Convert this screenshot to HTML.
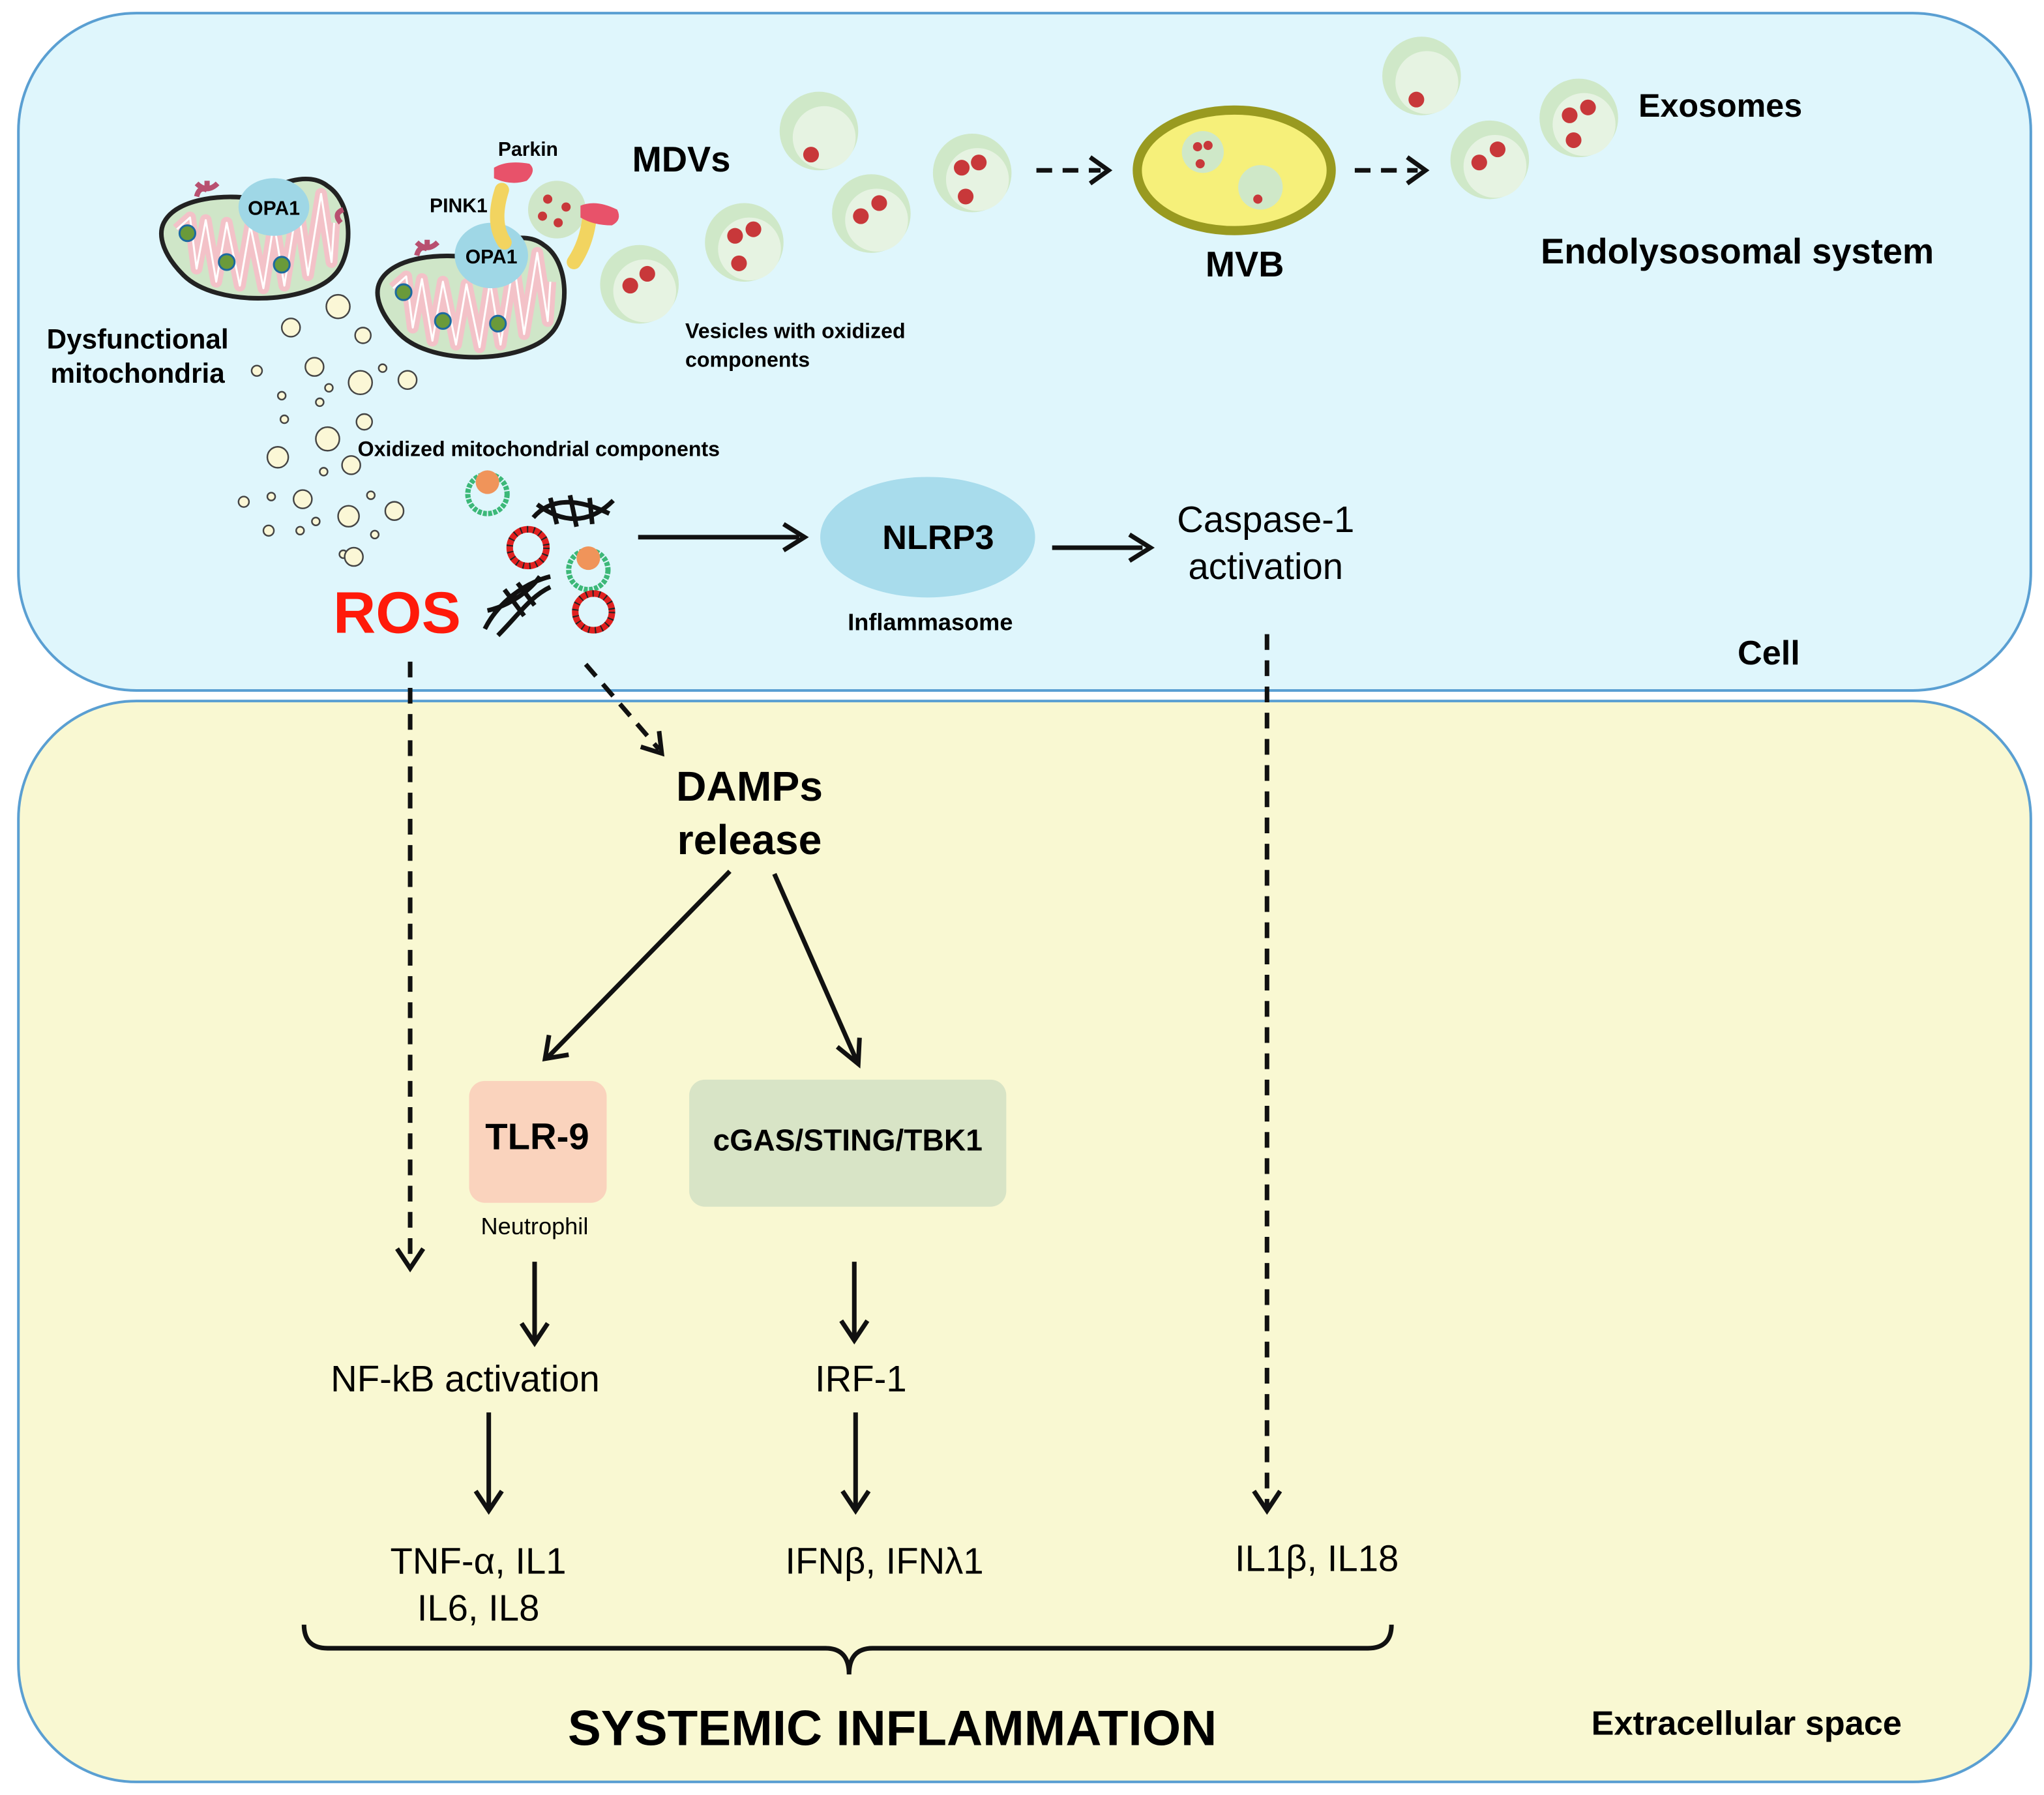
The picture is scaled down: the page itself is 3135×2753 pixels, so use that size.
<!DOCTYPE html>
<html><head><meta charset="utf-8"><style>html,body{margin:0;padding:0;background:#fff}svg{display:block}</style></head><body>
<svg width="3135" height="2753" viewBox="0 0 1560 1370" xmlns="http://www.w3.org/2000/svg" font-family="Liberation Sans, Arial, sans-serif">
<defs>
<marker id="ah" markerWidth="10" markerHeight="10" refX="8" refY="5" orient="auto" markerUnits="userSpaceOnUse" viewBox="0 0 10 10" >
</marker>
<g id="ves"><circle r="30" fill="#cfe8c8"/><circle cx="4" cy="5" r="24" fill="#e6f3e2"/></g>
<g id="mito">
<path d="M-70,-10 C-60,-30 -20,-32 0,-28 C15,-40 40,-50 55,-38 C75,-25 75,15 60,30 C40,52 -30,55 -55,30 C-70,15 -75,0 -70,-10Z" fill="#cfe6c8" stroke="#222" stroke-width="3.5"/>
<path d="M-60,-5 L-50,-14 L-45,25 L-38,-12 L-30,35 L-22,-10 L-12,38 L-4,-8 L6,40 L14,-10 L22,38 L32,-25 L40,30 L50,-32 L58,20 L60,-10" fill="none" stroke="#f3c2c8" stroke-width="9" stroke-linejoin="round"/>
<path d="M-60,-5 L-50,-14 L-45,25 L-38,-12 L-30,35 L-22,-10 L-12,38 L-4,-8 L6,40 L14,-10 L22,38 L32,-25 L40,30 L50,-32 L58,20 L60,-10" fill="none" stroke="#fff" stroke-width="1.5" stroke-linejoin="round"/>
<circle cx="-52" cy="-2" r="6" fill="#6a9a3a" stroke="#1c6aa0" stroke-width="1.5"/>
<circle cx="-22" cy="20" r="6" fill="#6a9a3a" stroke="#1c6aa0" stroke-width="1.5"/>
<circle cx="20" cy="22" r="6" fill="#6a9a3a" stroke="#1c6aa0" stroke-width="1.5"/>
</g>
</defs>
<style>.b{font-weight:bold}.ar{stroke:#111;stroke-width:3.5;fill:none}</style>
<rect x="14" y="10" width="1536" height="517" rx="90" fill="#dff6fc" stroke="#5a9fd2" stroke-width="2"/>
<rect x="14" y="535" width="1536" height="825" rx="90" fill="#f9f8d2" stroke="#5a9fd2" stroke-width="2"/>

<!-- mitochondria -->
<use href="#mito" x="195" y="180"/>
<path d="M150,150 q2,-8 8,-5 M158,145 l0,-7 M150,140 q8,8 16,0" stroke="#b85070" stroke-width="4" fill="none"/>
<path d="M262,160 q-8,3 -2,10" stroke="#b85070" stroke-width="4" fill="none"/>
<ellipse cx="209" cy="158" rx="27" ry="22" fill="#9fd7e6"/>
<text x="209" y="164" font-size="15" class="b" text-anchor="middle">OPA1</text>
<circle cx="425" cy="160" r="22" fill="#cfe6c8"/>
<circle cx="418" cy="152" r="3.5" fill="#c8383a"/><circle cx="432" cy="158" r="3.5" fill="#c8383a"/><circle cx="426" cy="170" r="3.5" fill="#c8383a"/><circle cx="414" cy="165" r="3.5" fill="#c8383a"/>
<use href="#mito" x="360" y="225"/>
<path d="M318,195 q2,-8 8,-5 M326,190 l0,-7 M318,185 q8,8 16,0" stroke="#b85070" stroke-width="4" fill="none"/>
<ellipse cx="375" cy="195" rx="28" ry="25" fill="#9fd7e6"/>
<text x="375" y="201" font-size="15" class="b" text-anchor="middle">OPA1</text>
<path d="M383,145 q-8,25 2,40" stroke="#f2d460" stroke-width="11" stroke-linecap="round" fill="none"/>
<path d="M438,200 q10,-15 12,-35" stroke="#f2d460" stroke-width="11" stroke-linecap="round" fill="none"/>
<path d="M377,128 q10,-6 27,-3 q6,5 -2,13 q-12,4 -25,-2Z" fill="#e8526a"/>
<path d="M443,157 q12,-5 28,3 q4,8 -4,12 q-14,0 -24,-6Z" fill="#e8526a"/>
<text x="403" y="119" font-size="15" class="b" text-anchor="middle">Parkin</text>
<text x="350" y="162" font-size="15" class="b" text-anchor="middle">PINK1</text>

<!-- bubbles -->
<g fill="#fbf7d6" stroke="#444" stroke-width="1.2">
<circle cx="222" cy="250" r="7"/><circle cx="258" cy="234" r="9"/><circle cx="277" cy="256" r="6"/><circle cx="196" cy="283" r="4"/><circle cx="240" cy="280" r="7"/><circle cx="275" cy="292" r="9"/><circle cx="215" cy="302" r="3"/><circle cx="251" cy="296" r="3"/><circle cx="292" cy="281" r="3"/><circle cx="311" cy="290" r="7"/><circle cx="217" cy="320" r="3"/><circle cx="244" cy="307" r="3"/><circle cx="278" cy="322" r="6"/><circle cx="250" cy="335" r="9"/><circle cx="212" cy="349" r="8"/><circle cx="268" cy="355" r="7"/><circle cx="247" cy="360" r="3"/><circle cx="186" cy="383" r="4"/><circle cx="207" cy="379" r="3"/><circle cx="231" cy="381" r="7"/><circle cx="241" cy="398" r="3"/><circle cx="266" cy="394" r="8"/><circle cx="283" cy="378" r="3"/><circle cx="301" cy="390" r="7"/><circle cx="205" cy="405" r="4"/><circle cx="229" cy="405" r="3"/><circle cx="262" cy="423" r="3"/><circle cx="286" cy="408" r="3"/><circle cx="270" cy="425" r="7"/>
</g>
<text x="105" y="266" font-size="21" class="b" text-anchor="middle">Dysfunctional</text>
<text x="105" y="292" font-size="21" class="b" text-anchor="middle">mitochondria</text>

<!-- vesicles -->
<use href="#ves" x="625" y="100"/><circle cx="619" cy="118" r="6" fill="#c8383a"/>
<use href="#ves" x="665" y="163"/><circle cx="657" cy="165" r="6" fill="#c8383a"/><circle cx="671" cy="155" r="6" fill="#c8383a"/>
<use href="#ves" x="742" y="132"/><circle cx="734" cy="128" r="6" fill="#c8383a"/><circle cx="747" cy="124" r="6" fill="#c8383a"/><circle cx="737" cy="150" r="6" fill="#c8383a"/>
<use href="#ves" x="568" y="185"/><circle cx="561" cy="180" r="6" fill="#c8383a"/><circle cx="575" cy="175" r="6" fill="#c8383a"/><circle cx="564" cy="201" r="6" fill="#c8383a"/>
<use href="#ves" x="488" y="217"/><circle cx="481" cy="218" r="6" fill="#c8383a"/><circle cx="494" cy="209" r="6" fill="#c8383a"/>
<use href="#ves" x="1085" y="58"/><circle cx="1081" cy="76" r="6" fill="#c8383a"/>
<use href="#ves" x="1137" y="122"/><circle cx="1129" cy="124" r="6" fill="#c8383a"/><circle cx="1143" cy="114" r="6" fill="#c8383a"/>
<use href="#ves" x="1205" y="90"/><circle cx="1198" cy="88" r="6" fill="#c8383a"/><circle cx="1212" cy="82" r="6" fill="#c8383a"/><circle cx="1201" cy="107" r="6" fill="#c8383a"/>
<text x="520" y="131" font-size="27" class="b" text-anchor="middle">MDVs</text>
<text x="523" y="258" font-size="16" class="b">Vesicles with oxidized</text>
<text x="523" y="280" font-size="16" class="b">components</text>

<!-- MVB -->
<ellipse cx="942" cy="130" rx="74" ry="46" fill="#f6f07a" stroke="#999a20" stroke-width="7"/>
<circle cx="918" cy="116" r="16" fill="#cfe8c8"/><circle cx="914" cy="112" r="3.5" fill="#c8383a"/><circle cx="922" cy="111" r="3.5" fill="#c8383a"/><circle cx="916" cy="125" r="3.5" fill="#c8383a"/>
<circle cx="962" cy="143" r="17" fill="#cfe8c8"/><circle cx="960" cy="152" r="3.5" fill="#c8383a"/>
<text x="950" y="211" font-size="27" class="b" text-anchor="middle">MVB</text>
<path d="M791,130 H840" class="ar" stroke-dasharray="12,8"/><path d="M832,120 L846,130 L832,140" class="ar"/>
<path d="M1034,130 H1082" class="ar" stroke-dasharray="12,8"/><path d="M1074,120 L1088,130 L1074,140" class="ar"/>
<text x="1313" y="89" font-size="25" class="b" text-anchor="middle">Exosomes</text>
<text x="1326" y="201" font-size="27" class="b" text-anchor="middle">Endolysosomal system</text>

<!-- oxidized components -->
<text x="273" y="348" font-size="16" class="b">Oxidized mitochondrial components</text>
<circle cx="372" cy="377" r="15" fill="none" stroke="#3cb878" stroke-width="4" stroke-dasharray="3,1"/>
<circle cx="372" cy="368" r="9" fill="#f0945a"/>
<circle cx="449" cy="435" r="15" fill="none" stroke="#3cb878" stroke-width="4" stroke-dasharray="3,1"/>
<circle cx="449" cy="426" r="9" fill="#f0945a"/>
<circle cx="403" cy="418" r="14" fill="none" stroke="#e02020" stroke-width="5"/>
<circle cx="403" cy="418" r="14" fill="none" stroke="#222" stroke-width="5" stroke-dasharray="1,4"/>
<circle cx="453" cy="467" r="14" fill="none" stroke="#e02020" stroke-width="5"/>
<circle cx="453" cy="467" r="14" fill="none" stroke="#222" stroke-width="5" stroke-dasharray="1,4"/>
<path d="M407,395 C420,380 440,380 465,392 M410,385 C430,400 450,400 468,382 M420,380 L425,400 M435,378 L440,402 M450,380 L452,400" stroke="#111" stroke-width="3.5" fill="none"/>
<path d="M370,480 C380,460 400,445 420,440 M380,485 C395,470 405,455 420,448 M372,466 C390,462 405,450 412,440 M385,450 L400,470 M395,445 L408,462" stroke="#111" stroke-width="3.5" fill="none"/>
<text x="303" y="483" font-size="45" class="b" text-anchor="middle" fill="#ff1a0a">ROS</text>

<!-- NLRP3 -->
<path d="M487,410 H610" class="ar"/><path d="M598,400 L614,410 L598,420" class="ar"/>
<ellipse cx="708" cy="410" rx="82" ry="46" fill="#a8dcec"/>
<text x="716" y="419" font-size="26" class="b" text-anchor="middle">NLRP3</text>
<text x="710" y="481" font-size="18" class="b" text-anchor="middle">Inflammasome</text>
<path d="M803,418 H872" class="ar"/><path d="M862,408 L878,418 L862,428" class="ar"/>
<text x="966" y="406" font-size="28" text-anchor="middle">Caspase-1</text>
<text x="966" y="442" font-size="28" text-anchor="middle">activation</text>
<text x="1350" y="507" font-size="26" class="b" text-anchor="middle">Cell</text>

<!-- bottom -->
<path d="M313,505 V965" class="ar" stroke-dasharray="12,8"/><path d="M303,953 L313,968 L323,953" class="ar"/>
<path d="M447,507 L503,572" class="ar" stroke-dasharray="12,8"/><path d="M489,570 L505,575 L503,558" class="ar"/>
<path d="M967,484 V1150" class="ar" stroke-dasharray="12,8"/><path d="M957,1138 L967,1153 L977,1138" class="ar"/>
<text x="572" y="611" font-size="32" class="b" text-anchor="middle">DAMPs</text>
<text x="572" y="652" font-size="32" class="b" text-anchor="middle">release</text>
<path d="M557,665 L418,807" class="ar"/><path d="M419,790 L416,808 L434,805" class="ar"/>
<path d="M591,667 L654,810" class="ar"/><path d="M639,799 L655,812 L656,792" class="ar"/>
<rect x="358" y="825" width="105" height="93" rx="12" fill="#fad3bd"/>
<text x="410" y="877" font-size="28" class="b" text-anchor="middle">TLR-9</text>
<text x="408" y="942" font-size="18" text-anchor="middle">Neutrophil</text>
<rect x="526" y="824" width="242" height="97" rx="12" fill="#d8e4c6"/>
<text x="647" y="878" font-size="23" class="b" text-anchor="middle">cGAS/STING/TBK1</text>
<path d="M408,963 V1022" class="ar"/><path d="M398,1010 L408,1025 L418,1010" class="ar"/>
<path d="M652,963 V1020" class="ar"/><path d="M642,1008 L652,1023 L662,1008" class="ar"/>
<text x="355" y="1062" font-size="28" text-anchor="middle">NF-kB activation</text>
<text x="657" y="1062" font-size="28" text-anchor="middle">IRF-1</text>
<path d="M373,1078 V1150" class="ar"/><path d="M363,1138 L373,1153 L383,1138" class="ar"/>
<path d="M653,1078 V1150" class="ar"/><path d="M643,1138 L653,1153 L663,1138" class="ar"/>
<text x="365" y="1201" font-size="28" text-anchor="middle">TNF-α, IL1</text>
<text x="365" y="1237" font-size="28" text-anchor="middle">IL6, IL8</text>
<text x="675" y="1201" font-size="28" text-anchor="middle">IFNβ, IFNλ1</text>
<text x="1005" y="1199" font-size="28" text-anchor="middle">IL1β, IL18</text>
<path d="M232,1240 Q232,1258 250,1258 H630 Q648,1258 648,1278 Q648,1258 666,1258 H1044 Q1062,1258 1062,1240" stroke="#111" stroke-width="3.5" fill="none"/>
<text x="681" y="1332" font-size="38" class="b" text-anchor="middle">SYSTEMIC INFLAMMATION</text>
<text x="1333" y="1324" font-size="26" class="b" text-anchor="middle">Extracellular space</text>
</svg>
</body></html>
